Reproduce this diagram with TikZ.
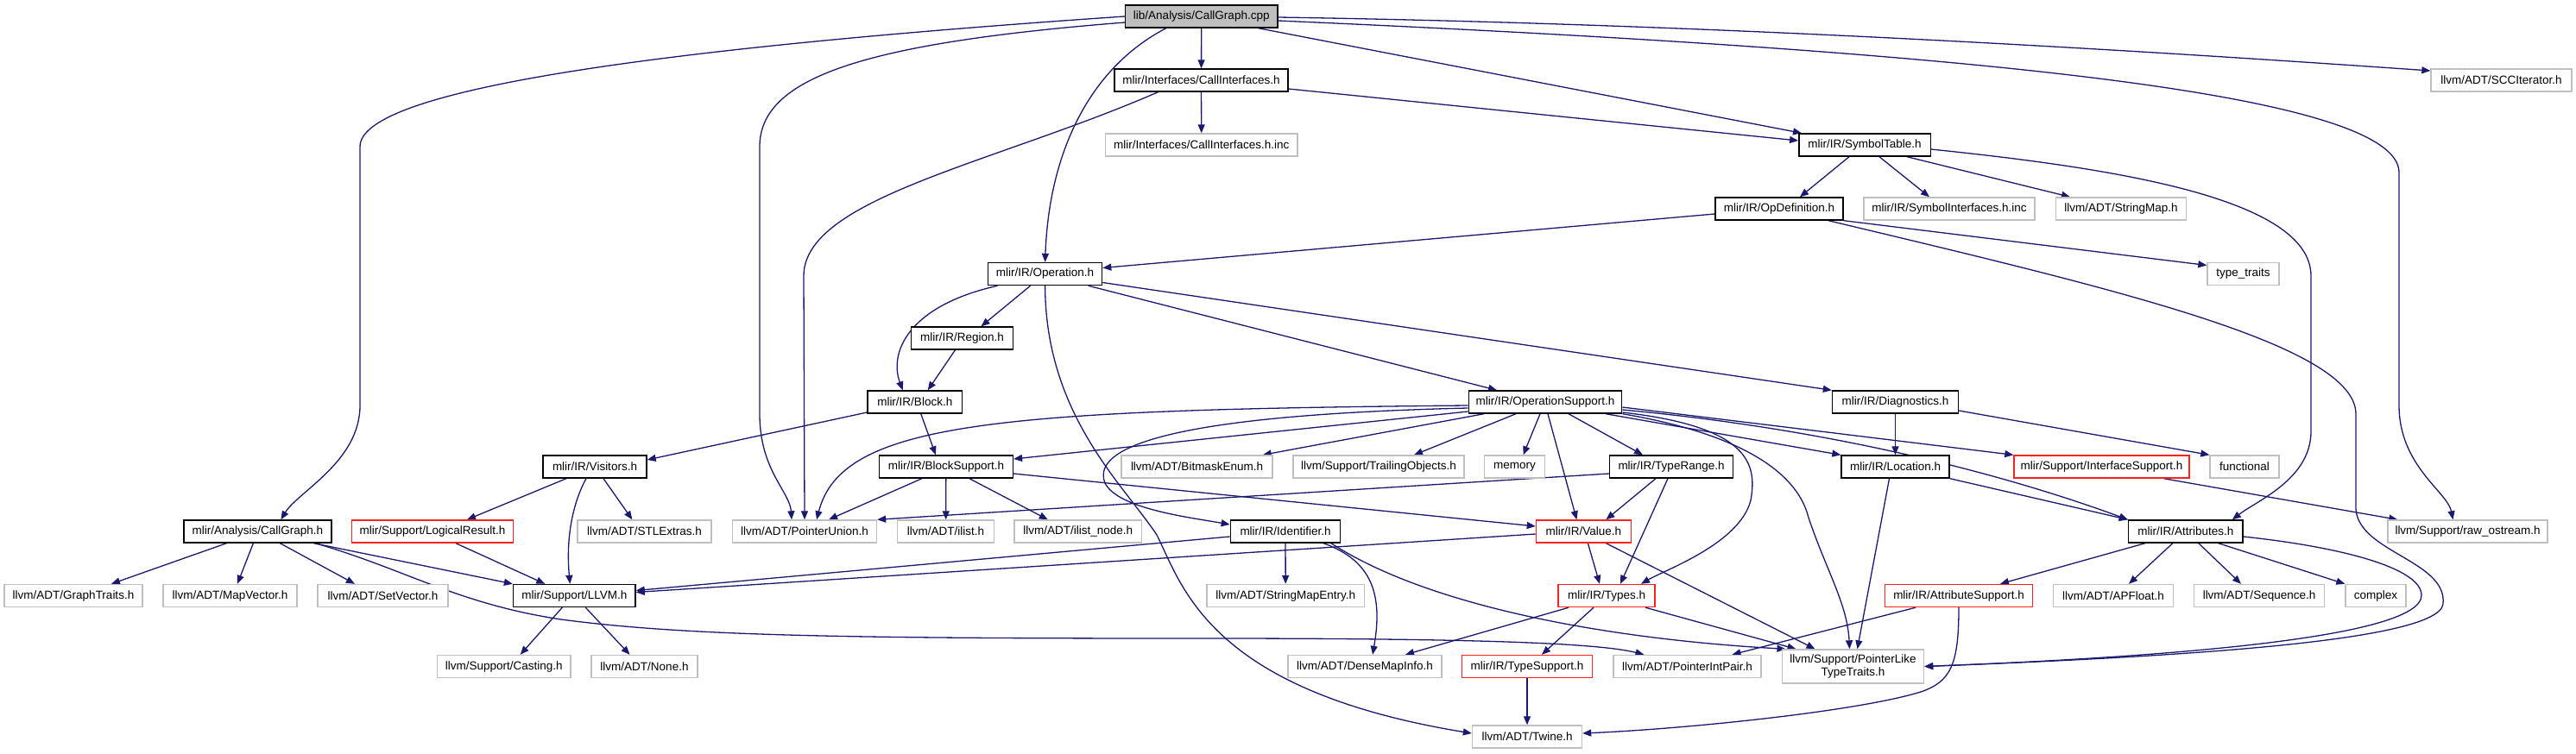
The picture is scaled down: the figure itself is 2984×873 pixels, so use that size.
\documentclass[tikz,border=0pt]{standalone}
\usepackage{fontspec}
\setmainfont{Liberation Sans}
\usetikzlibrary{arrows.meta}
\definecolor{edgec}{HTML}{191970}
\definecolor{greyc}{HTML}{BFBFBF}
\definecolor{redc}{HTML}{FF2020}
\pgfdeclarelayer{bg}
\pgfsetlayers{bg,main}
\begin{document}
\begin{tikzpicture}[x=1pt,y=-1pt,
  nb/.style={rectangle, inner sep=0pt, minimum height=26pt, align=center,
    font=\fontsize{13.5}{15.5}\selectfont, line width=1.4pt, fill=white},
  docn/.style={nb, draw=black},
  extn/.style={nb, draw=greyc},
  trcn/.style={nb, draw=redc},
  mainn/.style={nb, draw=black, fill=greyc},
  edg/.style={draw=edgec, line width=1.3pt, -{Triangle[length=10pt,width=8pt]}}]
\useasboundingbox (0,0) rectangle (2984,873);
% row 1
\node[mainn, minimum width=176.5pt] (cpp) at (1391.75,19) {lib/Analysis/CallGraph.cpp};
% row 2
\node[docn, minimum width=201pt] (ci) at (1391.5,93) {mlir/Interfaces/CallInterfaces.h};
\node[extn, minimum width=163pt] (scc) at (2897.5,93) {llvm/ADT/SCCIterator.h};
% row 3
\node[extn, minimum width=222.5pt] (ciinc) at (1391.75,168) {mlir/Interfaces/CallInterfaces.h.inc};
\node[docn, minimum width=152.4pt] (st) at (2160,168) {mlir/IR/SymbolTable.h};
% row 4
\node[docn, minimum width=148pt] (opdef) at (2061,242) {mlir/IR/OpDefinition.h};
\node[extn, minimum width=198pt] (siinc) at (2258,242) {mlir/IR/SymbolInterfaces.h.inc};
\node[extn, minimum width=151pt] (smap) at (2457,242) {llvm/ADT/StringMap.h};
% row 5
\node[docn, minimum width=132pt] (op) at (1210.6,317.5) {mlir/IR/Operation.h};
\node[extn, minimum width=83pt] (tt) at (2598.5,317.5) {type\_traits};
% row 6
\node[docn, minimum width=117.6pt] (reg) at (1114.5,392) {mlir/IR/Region.h};
% row 7
\node[docn, minimum width=109.5pt] (blk) at (1059.75,466) {mlir/IR/Block.h};
\node[docn, minimum width=177.5pt] (ops) at (1790,466) {mlir/IR/OperationSupport.h};
\node[docn, minimum width=146pt] (diag) at (2195.5,466) {mlir/IR/Diagnostics.h};
% row 8
\node[docn, minimum width=120pt] (vis) at (689,541) {mlir/IR/Visitors.h};
\node[docn, minimum width=155pt] (bs) at (1095.9,541) {mlir/IR/BlockSupport.h};
\node[extn, minimum width=175pt] (bme) at (1386.5,541) {llvm/ADT/BitmaskEnum.h};
\node[extn, minimum width=198pt] (tro) at (1597,541) {llvm/Support/TrailingObjects.h};
\node[extn, minimum width=70pt] (mem) at (1754.5,541) {memory};
\node[docn, minimum width=143pt] (tr) at (1936,541) {mlir/IR/TypeRange.h};
\node[docn, minimum width=125pt] (loc) at (2195.5,541) {mlir/IR/Location.h};
\node[trcn, minimum width=203pt] (is) at (2434.5,541) {mlir/Support/InterfaceSupport.h};
\node[extn, minimum width=80pt] (fn) at (2600,541) {functional};
% row 9
\node[docn, minimum width=171pt] (cgh) at (298.4,616) {mlir/Analysis/CallGraph.h};
\node[trcn, minimum width=187pt] (lr) at (501,616) {mlir/Support/LogicalResult.h};
\node[extn, minimum width=155pt] (stl) at (746.4,616) {llvm/ADT/STLExtras.h};
\node[extn, minimum width=167pt] (pu) at (932,616) {llvm/ADT/PointerUnion.h};
\node[extn, minimum width=112pt] (il) at (1095.6,616) {llvm/ADT/ilist.h};
\node[extn, minimum width=147.6pt] (iln) at (1248.8,616) {llvm/ADT/ilist\_node.h};
\node[docn, minimum width=127.3pt] (id) at (1489,616) {mlir/IR/Identifier.h};
\node[trcn, minimum width=110pt] (val) at (1834.4,616) {mlir/IR/Value.h};
\node[docn, minimum width=132.4pt] (attr) at (2531.8,616) {mlir/IR/Attributes.h};
\node[extn, minimum width=185pt] (ros) at (2858.5,616) {llvm/Support/raw\_ostream.h};
% row 10
\node[extn, minimum width=160pt] (gt) at (85,690.5) {llvm/ADT/GraphTraits.h};
\node[extn, minimum width=155pt] (mv) at (266.5,690.5) {llvm/ADT/MapVector.h};
\node[extn, minimum width=151pt] (sv) at (443.5,690.5) {llvm/ADT/SetVector.h};
\node[docn, minimum width=141.5pt] (llvm) at (665.3,690.5) {mlir/Support/LLVM.h};
\node[extn, minimum width=182.4pt] (sme) at (1489.2,690.5) {llvm/ADT/StringMapEntry.h};
\node[trcn, minimum width=112pt] (ty) at (1861,690.5) {mlir/IR/Types.h};
\node[trcn, minimum width=171pt] (as) at (2269,690.5) {mlir/IR/AttributeSupport.h};
\node[extn, minimum width=139pt] (apf) at (2448,690.5) {llvm/ADT/APFloat.h};
\node[extn, minimum width=151pt] (seq) at (2617,690.5) {llvm/ADT/Sequence.h};
\node[extn, minimum width=70pt] (cplx) at (2752,690.5) {complex};
% row 11
\node[extn, minimum width=154.5pt] (cast) at (583.7,772.5) {llvm/Support/Casting.h};
\node[extn, minimum width=123pt] (none) at (746.5,772.5) {llvm/ADT/None.h};
\node[extn, minimum width=178pt] (dmi) at (1581,772.5) {llvm/ADT/DenseMapInfo.h};
\node[trcn, minimum width=151pt] (ts) at (1769,772.5) {mlir/IR/TypeSupport.h};
\node[extn, minimum width=171pt] (pip) at (1954.5,772.5) {llvm/ADT/PointerIntPair.h};
\node[extn, minimum width=164pt, minimum height=39pt] (pltt) at (2146.5,772.5) {llvm/Support/PointerLike\\TypeTraits.h};
% row 12
\node[extn, minimum width=127pt] (tw) at (1769,854) {llvm/ADT/Twine.h};

\begin{pgfonlayer}{bg}
% from CallGraph.cpp
\draw[edg] (cpp.west) .. controls (700,60) and (417,110) .. (417,170) -- (417,470) .. controls (417,535) and (345,570) .. ([xshift=27pt]cgh.north);
\draw[edg] ([yshift=-7pt]cpp.west) .. controls (1000,50) and (880,90) .. (880,170) -- (880,480) .. controls (880,545) and (915,570) .. ([xshift=-15pt]pu.north);
\draw[edg] ([xshift=-41pt]cpp.south) .. controls (1260,80) and (1215,180) .. (op.north);
\draw[edg] (cpp) -- (ci);
\draw[edg] ([xshift=66pt]cpp.south) -- ([xshift=-73pt]st.north);
\draw[edg] ([yshift=-1pt]cpp.east) .. controls (2000,28) and (2500,60) .. ([yshift=11pt]scc.west);
\draw[edg] ([yshift=-5pt]cpp.east) .. controls (2300,60) and (2779,110) .. (2779,200) -- (2779,470) .. controls (2779,540) and (2835,570) .. ([xshift=-17pt]ros.north);
% from CallInterfaces.h
\draw[edg] ([xshift=-50pt]ci.south) .. controls (1150,190) and (931,230) .. (931,320) -- (pu.north);
\draw[edg] (ci) -- (ciinc);
\draw[edg] ([yshift=-10pt]ci.east) -- ([yshift=5pt]st.west);
% from SymbolTable.h
\draw[edg] ([xshift=-18pt]st.south) -- ([xshift=24pt]opdef.north);
\draw[edg] ([xshift=17pt]st.south) -- ([xshift=-23pt]siinc.north);
\draw[edg] ([xshift=49pt]st.south) -- ([xshift=-59pt]smap.north);
\draw[edg] ([yshift=-5pt]st.east) .. controls (2450,195) and (2677,230) .. (2677,320) -- (2677,500) .. controls (2677,555) and (2615,580) .. ([xshift=54pt]attr.north);
% from OpDefinition.h
\draw[edg] ([yshift=-6pt]opdef.west) -- ([yshift=7pt]op.east);
\draw[edg] (opdef.south east) -- ([yshift=10pt]tt.west);
\draw[edg] ([xshift=57pt]opdef.south) .. controls (2450,335) and (2729,400) .. (2729,480) -- (2729,590) .. controls (2732,640) and (2835,650) .. (2830,700) .. controls (2825,745) and (2500,762) .. (pltt.east);
% from Operation.h
\draw[edg] ([xshift=-17pt]op.south) -- ([xshift=22pt]reg.north);
\draw[edg] ([xshift=-55pt]op.south) .. controls (1050,355) and (1030,410) .. ([xshift=-14pt]blk.north);
\draw[edg] ([xshift=50pt]op.south) -- ([xshift=-56pt]ops.north);
\draw[edg] ([yshift=-10pt]op.east) -- (diag.north west);
\draw[edg] (op.south) .. controls (1211,480) and (1300,560) .. (1340,620) .. controls (1370,680) and (1400,800) .. ([yshift=4pt]tw.west);
% Region, Block, Visitors
\draw[edg] ([xshift=-8pt]reg.south) -- ([xshift=15pt]blk.north);
\draw[edg] ([yshift=-12pt]blk.west) -- ([yshift=8pt]vis.east);
\draw[edg] ([xshift=7pt]blk.south) -- ([xshift=-12pt]bs.north);
\draw[edg] ([xshift=-33pt]vis.south) -- ([xshift=40pt]lr.north);
\draw[edg] ([xshift=-10pt]vis.south) .. controls (665,580) and (655,620) .. ([xshift=-5pt]llvm.north);
\draw[edg] ([xshift=10pt]vis.south) -- ([xshift=-14pt]stl.north);
% BlockSupport
\draw[edg] ([xshift=-28pt]bs.south) -- ([xshift=28pt]pu.north);
\draw[edg] (bs) -- (il);
\draw[edg] ([xshift=27pt]bs.south) -- ([xshift=-35pt]iln.north);
\draw[edg] ([yshift=-8pt]bs.east) -- ([yshift=6pt]val.west);
% TypeRange
\draw[edg] ([yshift=-8pt]tr.west) -- (pu.north east);
\draw[edg] ([xshift=-18pt]tr.south) -- ([xshift=26pt]val.north);
\draw[edg] ([xshift=-4pt]tr.south) -- ([xshift=16pt]ty.north);
% OperationSupport
\draw[edg] ([yshift=-4pt]ops.west) .. controls (1150,475) and (975,490) .. ([xshift=14pt]pu.north);
\draw[edg] ([yshift=-11pt]ops.west) -- ([yshift=9pt]bs.east);
\draw[edg] ([xshift=-71pt]ops.south) -- ([xshift=-12pt]bme.north east);
\draw[edg] ([yshift=-7pt]ops.west) .. controls (1400,480) and (1260,510) .. (1280,560) .. controls (1295,590) and (1380,600) .. ([yshift=8pt]id.west);
\draw[edg] ([xshift=-34pt]ops.south) -- ([xshift=41pt]tro.north);
\draw[edg] ([xshift=-6pt]ops.south) -- ([xshift=10pt]mem.north);
\draw[edg] ([xshift=3pt]ops.south) -- ([xshift=-8pt]val.north);
\draw[edg] ([xshift=27pt]ops.south) -- ([xshift=-33pt]tr.north);
\draw[edg] ([xshift=70pt]ops.south) -- (loc.north west);
\draw[edg] ([yshift=-6pt]ops.east) -- (is.north west);
\draw[edg] ([yshift=-9pt]ops.east) .. controls (2150,500) and (2350,560) .. (attr.north west);
\draw[edg] ([yshift=-12pt]ops.east) .. controls (2030,495) and (2035,540) .. (2028,580) .. controls (2015,630) and (1930,660) .. ([xshift=40pt]ty.north);
\draw[edg] (ops.south east) .. controls (2000,500) and (2080,540) .. (2095,600) .. controls (2115,660) and (2140,700) .. ([xshift=-4pt]pltt.north);
% Diagnostics, Location, InterfaceSupport
\draw[edg] (diag) -- (loc);
\draw[edg] ([yshift=-10pt]diag.east) -- (fn.north west);
\draw[edg] ([xshift=-7pt]loc.south) -- ([xshift=5pt]pltt.north);
\draw[edg] (loc.south east) -- (attr.north west);
\draw[edg] ([xshift=72pt]is.south) -- ([xshift=12pt]ros.north west);
% CallGraph.h
\draw[edg] ([xshift=-36pt]cgh.south) -- ([xshift=44pt]gt.north);
\draw[edg] ([xshift=-5pt]cgh.south) -- ([xshift=8.5pt]mv.north);
\draw[edg] ([xshift=26pt]cgh.south) -- ([xshift=-32.5pt]sv.north);
\draw[edg] ([xshift=65pt]cgh.south) -- (llvm.north west);
\draw[edg] ([xshift=67pt]cgh.south) .. controls (470,660) and (530,700) .. (650,718) .. controls (800,738) and (1000,740) .. (1400,740) .. controls (1700,740) and (1850,745) .. ([xshift=-50pt]pip.north);
% LogicalResult, LLVM
\draw[edg] ([xshift=27pt]lr.south) -- ([xshift=-34pt]llvm.north);
\draw[edg] ([xshift=-14pt]llvm.south) -- ([xshift=19pt]cast.north);
\draw[edg] ([xshift=13pt]llvm.south) -- ([xshift=-17pt]none.north);
% Identifier
\draw[edg] ([yshift=-6pt]id.west) -- ([yshift=6pt]llvm.east);
\draw[edg] (id) -- (sme);
\draw[edg] ([xshift=44pt]id.south) .. controls (1590,650) and (1602,690) .. ([xshift=9pt]dmi.north);
\draw[edg] ([xshift=53pt]id.south) .. controls (1650,700) and (1850,740) .. ([xshift=-78pt]pltt.north);
% Value
\draw[edg] ([yshift=-3pt]val.west) -- ([yshift=4pt]llvm.east);
\draw[edg] ([xshift=5pt]val.south) -- ([xshift=-8pt]ty.north);
\draw[edg] ([xshift=26pt]val.south) -- ([xshift=-44pt]pltt.north);
% Types
\draw[edg] ([xshift=-44pt]ty.south) -- ([xshift=47pt]dmi.north);
\draw[edg] ([xshift=-15pt]ty.south) -- ([xshift=17pt]ts.north);
\draw[edg] ([xshift=45pt]ty.south) -- ([xshift=-66pt]pltt.north);
\draw[edg] (ts) -- (tw);
% Attributes, AttributeSupport
\draw[edg] ([xshift=-47pt]attr.south) -- ([xshift=48pt]as.north);
\draw[edg] ([xshift=-15pt]attr.south) -- ([xshift=18pt]apf.north);
\draw[edg] ([xshift=15pt]attr.south) -- ([xshift=-21pt]seq.north);
\draw[edg] ([xshift=38pt]attr.south) -- (cplx.north west);
\draw[edg] ([yshift=-6pt]attr.east) .. controls (2720,635) and (2805,660) .. (2805,690) .. controls (2805,740) and (2500,762) .. (pltt.east);
\draw[edg] ([xshift=-50pt]as.south) -- ([xshift=52pt]pip.north);
\draw[edg] (as.south) .. controls (2269,770) and (2260,790) .. (2225,802) .. controls (2150,825) and (1950,845) .. ([yshift=4pt]tw.east);
\end{pgfonlayer}
\end{tikzpicture}
\end{document}
